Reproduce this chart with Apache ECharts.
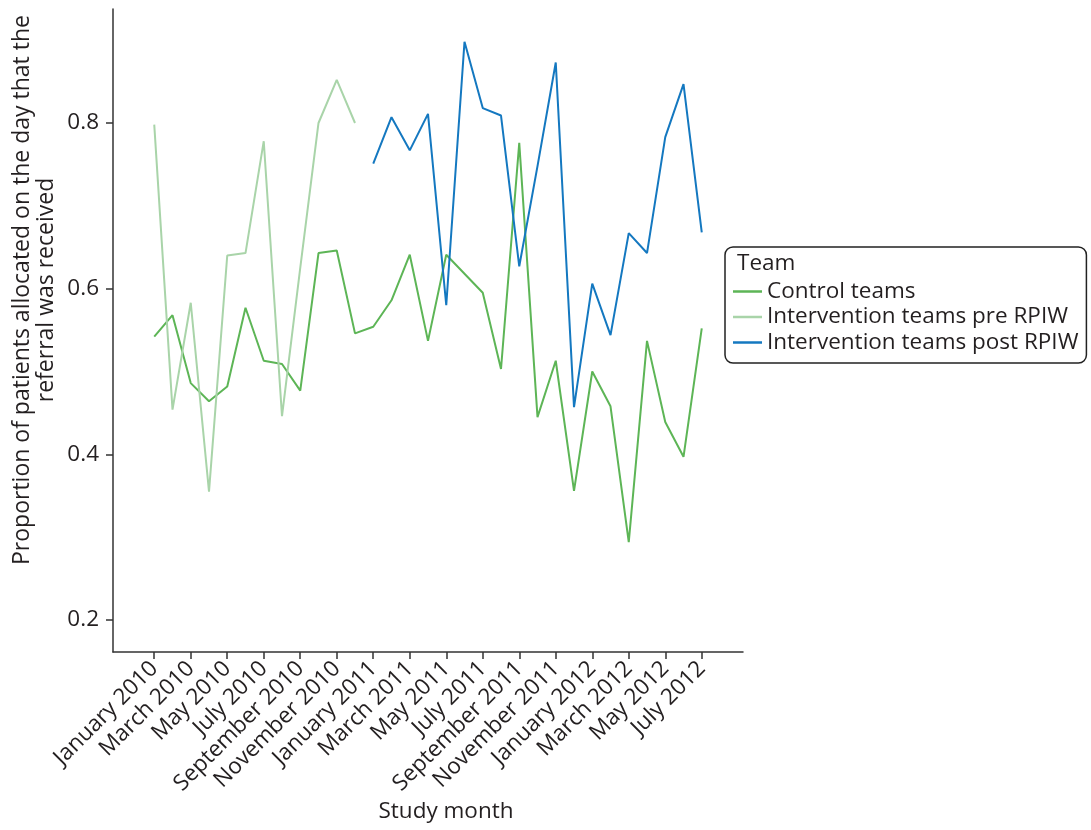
<!DOCTYPE html>
<html>
<head>
<meta charset="utf-8">
<script src="https://cdn.jsdelivr.net/npm/echarts@6/dist/echarts.min.js"></script>
<style>html,body{margin:0;padding:0;background:#fff;}#c{width:1091px;height:830px;}</style>
</head>
<body>
<div id="c"></div>
<script>
var monthNames = ['January','February','March','April','May','June','July','August','September','October','November','December'];
var months = [];
for (var y = 2010; y <= 2012; y++) for (var m = 0; m < 12; m++) months.push(monthNames[m] + ' ' + y);
months = months.slice(0, 31); // January 2010 .. July 2012

var controlTeams = [0.542,0.568,0.486,0.464,0.482,0.577,0.513,0.509,0.477,0.643,0.646,0.546,
  0.554,0.586,0.641,0.537,0.641,0.618,0.595,0.503,0.776,0.445,0.513,0.356,0.500,0.458,0.294,0.537,0.439,0.397,0.552];
var preStart = 0;
var interventionPre = [0.798,0.454,0.583,0.355,0.640,0.643,0.778,0.446,0.625,0.800,0.852,0.800];
var postStart = 12;
var interventionPost = [0.751,0.807,0.767,0.811,0.580,0.898,0.818,0.809,0.627,0.748,0.873,0.457,0.606,0.544,0.667,0.643,0.783,0.847,0.668];

var yTicks = [0.2,0.4,0.6,0.8];
var xTicks = []; for (var i = 0; i < months.length; i += 2) xTicks.push(i);

var seriesNames = ['Control teams','Intervention teams pre RPIW','Intervention teams post RPIW'];
var colors = ['#5db556','#a9d4a9','#1478c0'];

function pairs(arr, start) { return arr.map(function (v, i) { return [start + i, v]; }); }

var FONT = '"Open Sans", "Noto Sans", sans-serif';
var FS = 22.5;
var TXT = '#231f20';

var chart = echarts.init(document.getElementById('c'));
chart.setOption({
  animation: false,
  backgroundColor: '#fff',
  grid: { left: 113, right: 348, top: 9, bottom: 178, containLabel: false },
  xAxis: {
    type: 'value', min: -2.26, max: 32.26,
    splitLine: { show: false },
    axisLine: { show: true, onZero: false, lineStyle: { color: '#333', width: 1.5 } },
    axisTick: { show: true, length: 7, customValues: xTicks, lineStyle: { color: '#333', width: 1.5 } },
    axisLabel: {
      customValues: xTicks, rotate: 45, margin: 13,
      fontFamily: FONT, fontSize: FS, color: TXT,
      formatter: function (v) { return months[Math.round(v)] || ''; }
    }
  },
  yAxis: {
    type: 'value', min: 0.1614, max: 0.9376,
    splitLine: { show: false },
    axisLine: { show: true, onZero: false, lineStyle: { color: '#333', width: 1.5 } },
    axisTick: { show: true, length: 7, customValues: yTicks, lineStyle: { color: '#333', width: 1.5 } },
    axisLabel: {
      customValues: yTicks, margin: 14,
      fontFamily: FONT, fontSize: FS, color: TXT,
      formatter: function (v) { return v.toFixed(1); }
    }
  },
  legend: {
    orient: 'vertical', left: 725, top: 247,
    padding: [33, 8, 9, 8],
    itemGap: 2.5, itemWidth: 29, itemHeight: 2.5,
    icon: 'rect',
    borderColor: '#222', borderWidth: 1.5, borderRadius: 8,
    textStyle: { fontFamily: FONT, fontSize: FS, color: TXT, lineHeight: 22 },
    data: seriesNames
  },
  graphic: [
    { type: 'text', x: 737, y: 264, style: { text: 'Team', font: FS + 'px ' + FONT, fill: TXT, verticalAlign: 'middle' } },
    { type: 'text', x: 446, y: 812, style: { text: 'Study month', font: FS + 'px ' + FONT, fill: TXT, align: 'center', verticalAlign: 'middle' } },
    { type: 'text', x: 34, y: 290, rotation: Math.PI / 2,
      style: { text: 'Proportion of patients allocated on the day that the\nreferral was received', font: '23px ' + FONT, fill: TXT, align: 'center', verticalAlign: 'middle', lineHeight: 24 } }
  ],
  series: [
    { name: seriesNames[0], type: 'line', data: pairs(controlTeams, 0), showSymbol: false, symbol: 'none', color: colors[0], lineStyle: { width: 2, color: colors[0] } },
    { name: seriesNames[1], type: 'line', data: pairs(interventionPre, preStart), showSymbol: false, symbol: 'none', color: colors[1], lineStyle: { width: 2, color: colors[1] } },
    { name: seriesNames[2], type: 'line', data: pairs(interventionPost, postStart), showSymbol: false, symbol: 'none', color: colors[2], lineStyle: { width: 2, color: colors[2] } }
  ]
});
</script>
</body>
</html>
